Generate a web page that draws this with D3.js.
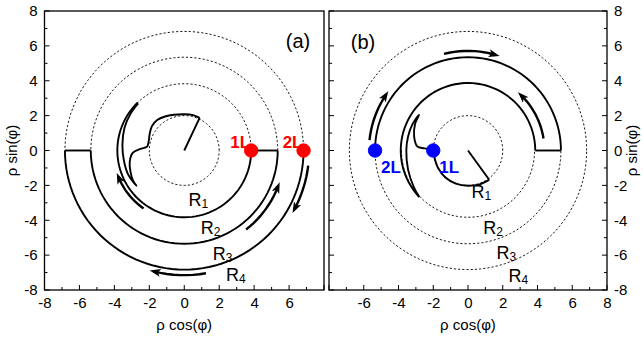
<!DOCTYPE html>
<html>
<head>
<meta charset="utf-8">
<script src="https://cdn.jsdelivr.net/npm/d3@7"></script>
<style>
  body { margin: 0; background: #fff; }
  text { font-family: "Liberation Sans", Arial, sans-serif; fill: #000; }
</style>
</head>
<body>
<script>
const W = 643, H = 340;

// axis ticks
const majorTicks = [-8, -6, -4, -2, 0, 2, 4, 6, 8];
const minorTicks = [-7, -5, -3, -1, 1, 3, 5, 7];
const xLabelsA = [-8, -6, -4, -2, 0, 2, 4, 6];
const xLabelsB = [-6, -4, -2, 0, 2, 4, 6, 8];
const yLabels = [-8, -6, -4, -2, 0, 2, 4, 6, 8];

// ring radii R1..R4
const ringR = [2, 3.83, 5.35, 6.83];
const ringNames = ["1", "2", "3", "4"];

// panel (a): arcs as [radius, startDeg, endDeg]
const dashA = [[2, 0, 360], [3.83, 0, 134], [5.35, 0, 180], [6.83, 0, 180]];
const solidA = [[3.83, 0, -226], [5.35, 0, -180], [6.83, 0, -180]];
const segA = [[[3.83, 0], [5.35, 0]], [[-6.83, 0], [-5.35, 0]], [[0, 0], [0.88, 1.87]]];
const trackA = [
  [0.88, 1.87], [0.5, 2.03], [0.02, 2.08], [-0.6, 2.05], [-1.1, 1.95], [-1.55, 1.75],
  [-1.85, 1.4], [-1.98, 0.95], [-2.04, 0.5], [-2.13, 0.22], [-2.51, 0.09], [-2.95, -0.14],
  [-3.12, -0.64], [-3.08, -1.21], [-2.92, -1.75], [-2.74, -2.02],
  [-3.2, -1.4], [-3.45, -0.6], [-3.54, 0.3], [-3.42, 1.3], [-3.08, 2.1], [-2.64, 2.7]
];
const arrowsA = [[5.75, -52, -21], [7.15, -7, -28], [7.15, -80, -104], [4.06, -125, -158]];
const dotsA = [[3.83, 0, "1L"], [6.83, 0, "2L"]];

// panel (b)
const dashB = [[2, 0, 360], [3.83, 180, 360], [5.35, 180, 360], [6.83, 0, 360]];
const solidB = [[3.87, 0, 223], [5.35, 0, 180]];
const segB = [[[3.87, 0], [5.35, 0]], [[0, 0], [1.22, -1.68]]];
const trackB = [
  [1.22, -1.68], [0.6, -1.96], [0, -2.02], [-0.7, -1.9], [-1.3, -1.55], [-1.72, -1.0],
  [-1.93, -0.4], [-2.0, 0], [-2.5, 0.12], [-2.92, 0.24], [-3.1, 0.8], [-3.05, 1.5], [-2.82, 2.04],
  [-3.2, 1.5], [-3.45, 0.8], [-3.55, 0], [-3.45, -1.1], [-3.12, -2.1], [-2.8, -2.68]
];
const arrowsB = [[5.71, 104, 74], [4.4, 9, 46], [5.7, 174, 146]];
const dotsB = [[-2, 0, "1L"], [-5.35, 0, "2L"]];

const svg = d3.select("body").append("svg").attr("width", W).attr("height", H);

svg.append("defs").append("marker")
  .attr("id", "head")
  .attr("markerUnits", "userSpaceOnUse")
  .attr("viewBox", "0 -5 10 10")
  .attr("refX", 6).attr("refY", 0)
  .attr("markerWidth", 11).attr("markerHeight", 11)
  .attr("orient", "auto")
  .append("path").attr("d", "M0,-3.6L10,0L0,3.6L2.5,0Z").attr("fill", "#000");

const yScale = d3.scaleLinear().domain([-8, 8]).range([290, 11]);

const arcPts = (r, a0, a1) => {
  const n = Math.max(8, Math.ceil(Math.abs(a1 - a0) / 3));
  return d3.range(n + 1).map(i => {
    const a = (a0 + (a1 - a0) * i / n) * Math.PI / 180;
    return [r * Math.cos(a), r * Math.sin(a)];
  });
};

const drawPanel = (opt) => {
  const x = d3.scaleLinear().domain([-8, 8]).range(opt.xr);
  const y = yScale;
  const g = svg.append("g");
  const line = d3.line().x(d => x(d[0])).y(d => y(d[1]));
  const curve = d3.line().x(d => x(d[0])).y(d => y(d[1])).curve(d3.curveCatmullRom);

  // dashed guide circles
  g.selectAll(".dash").data(opt.dash).enter().append("path")
    .attr("d", d => line(arcPts(d[0], d[1], d[2])))
    .attr("fill", "none").attr("stroke", "#000")
    .attr("stroke-width", 0.9).attr("stroke-dasharray", "2.2,2");

  // solid ring paths
  g.selectAll(".solid").data(opt.solid).enter().append("path")
    .attr("d", d => line(arcPts(d[0], d[1], d[2])))
    .attr("fill", "none").attr("stroke", "#000").attr("stroke-width", 1.9);

  g.selectAll(".seg").data(opt.seg).enter().append("path")
    .attr("d", d => line(d))
    .attr("fill", "none").attr("stroke", "#000").attr("stroke-width", 1.9);

  g.append("path").attr("d", curve(opt.track))
    .attr("fill", "none").attr("stroke", "#000").attr("stroke-width", 1.9)
    .attr("stroke-linejoin", "round");

  // arrows
  g.selectAll(".arr").data(opt.arrows).enter().append("path")
    .attr("d", d => line(arcPts(d[0], d[1], d[2])))
    .attr("fill", "none").attr("stroke", "#000").attr("stroke-width", 2.4)
    .attr("marker-end", "url(#head)");

  // ring labels
  const rl = g.selectAll(".rl").data(ringNames).enter().append("text")
    .attr("x", (d, i) => x(opt.rPos[i][0]))
    .attr("y", (d, i) => y(opt.rPos[i][1]) + 6)
    .attr("text-anchor", "middle")
    .attr("font-size", 18);
  rl.append("tspan").text("R");
  rl.append("tspan").attr("font-size", 12).attr("dy", 2).text(d => d);

  // points
  g.selectAll(".dot").data(opt.dots).enter().append("circle")
    .attr("cx", d => x(d[0])).attr("cy", d => y(d[1])).attr("r", 6.7)
    .attr("fill", opt.color).attr("stroke", opt.color);
  g.selectAll(".dl").data(opt.dots).enter().append("text")
    .attr("x", d => x(d[0]) + opt.lblOff[0])
    .attr("y", d => y(d[1]) + opt.lblOff[1])
    .attr("text-anchor", "middle")
    .attr("font-size", 17).attr("font-weight", "bold")
    .style("fill", opt.color)
    .text(d => d[2]);

  g.append("text").attr("x", opt.tag[0]).attr("y", opt.tag[1])
    .attr("text-anchor", "middle").attr("font-size", 20).text(opt.tagText);

  // frame
  g.append("rect")
    .attr("x", x(-8)).attr("y", y(8))
    .attr("width", x(8) - x(-8)).attr("height", y(-8) - y(8))
    .attr("fill", "none").attr("stroke", "#000").attr("stroke-width", 1.3);

  // bottom axis
  const xa = g.append("g").attr("transform", `translate(0,${y(-8)})`)
    .call(d3.axisBottom(x).tickValues(opt.xLabels).tickSize(0).tickPadding(7).tickFormat(d => String(d)));
  xa.select(".domain").remove();
  xa.selectAll("text").attr("font-size", 15).attr("font-family", null);
  g.selectAll(".xt").data(majorTicks.concat(minorTicks)).enter().append("line")
    .attr("x1", d => x(d)).attr("x2", d => x(d))
    .attr("y1", y(-8)).attr("y2", d => y(-8) - (d % 2 === 0 ? 5 : 3))
    .attr("stroke", "#000");

  // side ticks
  opt.sides.forEach(s => {
    const x0 = x(s === "left" ? -8 : 8);
    const dir = s === "left" ? 1 : -1;
    g.selectAll(".yt" + s).data(majorTicks.concat(minorTicks)).enter().append("line")
      .attr("x1", x0).attr("x2", d => x0 + dir * (d % 2 === 0 ? 5 : 3))
      .attr("y1", d => y(d)).attr("y2", d => y(d))
      .attr("stroke", "#000");
  });

  const ya = g.append("g").attr("transform", `translate(${x(opt.yAxisAt)},0)`)
    .call((opt.yAxisAt < 0 ? d3.axisLeft(y) : d3.axisRight(y))
      .tickValues(yLabels).tickSize(0).tickPadding(7).tickFormat(d => String(d)));
  ya.select(".domain").remove();
  ya.selectAll("text").attr("font-size", 15).attr("font-family", null);

  g.append("text").attr("x", x(0)).attr("y", 330)
    .attr("text-anchor", "middle").attr("font-size", 15).text("\u03c1 cos(\u03c6)");
  g.append("text")
    .attr("transform", `translate(${opt.yTitleX},${y(0)}) rotate(-90)`)
    .attr("text-anchor", "middle").attr("font-size", 15).text("\u03c1 sin(\u03c6)");
};

drawPanel({
  xr: [44.5, 324], dash: dashA, solid: solidA, seg: segA, track: trackA, arrows: arrowsA,
  dots: dotsA, color: "#f00", lblOff: [-11, -3],
  rPos: [[0.8, -2.84], [1.51, -4.43], [2.2, -5.93], [2.95, -7.12]],
  tag: [298, 48], tagText: "(a)", xLabels: xLabelsA, sides: ["left"], yAxisAt: -8, yTitleX: 17
});

drawPanel({
  xr: [329, 607], dash: dashB, solid: solidB, seg: segB, track: trackB, arrows: arrowsB,
  dots: dotsB, color: "#00f", lblOff: [16, 22],
  rPos: [[0.77, -2.36], [1.44, -4.43], [2.2, -5.87], [2.9, -7.17]],
  tag: [363, 49], tagText: "(b)", xLabels: xLabelsB, sides: ["left", "right"], yAxisAt: 8, yTitleX: 637
});
</script>
</body>
</html>
